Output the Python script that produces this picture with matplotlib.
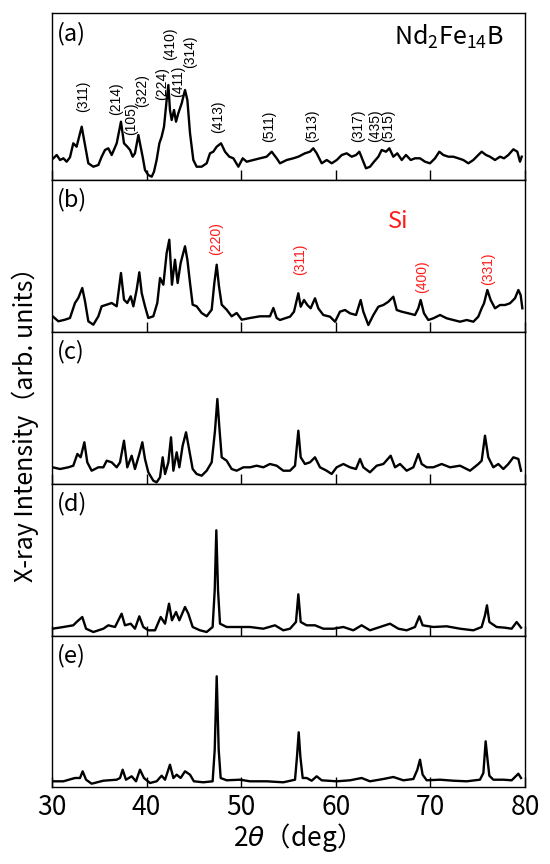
import numpy as np
import matplotlib
matplotlib.use('Agg')
import matplotlib.pyplot as plt

plt.rcParams['font.family'] = ['Noto Sans CJK JP', 'DejaVu Sans']

# 2theta (deg) and intensity (arb. units), one pair per panel
tt_a = [30.14, 30.5, 30.85, 31.2, 31.55, 31.9, 32.25, 32.6, 33.14, 33.49, 33.84, 34.37,
        34.9, 35.25, 35.6, 35.95, 36.31, 36.84, 37.29, 37.61, 37.96, 38.25, 38.53, 38.77,
        39.13, 39.37, 39.58, 39.83, 40.18, 40.54, 40.78, 41.06, 41.35, 41.59, 41.84, 42.12,
        42.3, 42.47, 42.65, 42.9, 43.11, 43.35, 43.71, 44.06, 44.31, 44.59, 44.94, 45.29,
        45.82, 46.35, 46.7, 47.05, 47.41, 47.87, 48.29, 48.74, 49.17, 49.7, 50.16, 50.58,
        51.28, 51.99, 52.69, 53.22, 53.75, 54.1, 54.81, 55.51, 56.04, 56.74, 57.27, 57.62,
        57.98, 58.51, 59.04, 59.57, 60.1, 60.63, 61.15, 61.68, 62.14, 62.49, 62.84, 63.19,
        63.62, 64.04, 64.5, 64.85, 65.31, 65.66, 66.08, 66.5, 66.97, 67.42, 67.92, 68.37,
        68.9, 69.43, 69.96, 70.49, 70.94, 71.37, 71.9, 72.42, 72.95, 73.48, 74.01, 74.54,
        75.06, 75.42, 75.88, 76.3, 76.83, 77.36, 77.78, 78.24, 78.77, 79.19, 79.47, 79.65]
int_a = [21.7, 25, 20, 21.7, 18.3, 22.7, 36.7, 33.3, 53.3, 35, 16.7, 13.3,
         15, 23.3, 30, 31.7, 25, 36.7, 58.3, 36.7, 33.3, 30, 23.3, 26.7,
         45, 33.3, 23.3, 10, 5, 3.3, 8.3, 20, 36.7, 43.3, 53.3, 80,
         95, 70, 60, 70, 58.3, 66.7, 76.7, 90, 80, 46.7, 20, 13.3,
         13.3, 16.7, 26.7, 28.3, 33.3, 36.7, 28.3, 23.3, 21.7, 13.3, 21.7, 18.3,
         20, 21.7, 23.3, 28.3, 21.7, 16.7, 20, 21.7, 23.3, 26.7, 28.3, 31.7,
         26.7, 16.7, 20, 16.7, 20, 25, 26.7, 23.3, 25, 28.3, 20, 11.7,
         13.3, 18.3, 23.3, 30, 28.3, 31.7, 23.3, 26.7, 20, 25, 20, 21.7,
         21.7, 18.3, 16.7, 21.7, 28.3, 25, 23.3, 23.3, 21.7, 20, 16.7, 20,
         25, 28.3, 25, 23.3, 20, 23.3, 21.7, 25, 30.7, 28.3, 18.3, 23.3]

tt_b = [30.07, 30.67, 31.37, 31.9, 32.43, 32.78, 33.2, 33.49, 33.84, 34.37, 34.9, 35.25,
        35.78, 36.31, 36.84, 37.29, 37.61, 37.96, 38.32, 38.6, 38.95, 39.23, 39.48, 39.83,
        40.18, 40.71, 41.13, 41.42, 41.77, 42.12, 42.4, 42.68, 43.0, 43.28, 43.6, 44.06,
        44.31, 44.59, 44.87, 45.29, 45.82, 46.35, 46.88, 47.16, 47.41, 47.65, 47.94, 48.46,
        48.99, 49.52, 50.05, 50.93, 51.99, 53.04, 53.4, 53.75, 54.1, 54.63, 55.16, 55.58,
        56.04, 56.29, 56.64, 56.99, 57.34, 57.8, 58.15, 58.68, 59.39, 59.92, 60.44, 60.97,
        61.5, 62.14, 62.63, 62.91, 63.44, 63.97, 64.5, 65.03, 65.56, 66.08, 66.44, 66.97,
        67.67, 68.37, 68.72, 68.97, 69.32, 69.78, 70.31, 71.02, 71.72, 72.42, 73.13, 73.84,
        74.54, 75.06, 75.42, 75.67, 76.02, 76.37, 76.83, 77.36, 77.89, 78.41, 78.94, 79.3,
        79.54, 79.72]
int_b = [15.7, 10.7, 12.3, 14, 29, 34, 44, 30.7, 10.7, 7.3, 15.7, 25.7,
         27.3, 29, 25.7, 59, 32.3, 29, 35.7, 25.7, 42.3, 59.7, 39, 25.7,
         14, 15.7, 29, 54, 47.3, 79, 92.3, 47.3, 72.3, 49, 69, 85.7,
         72.3, 49, 27.3, 25.7, 19, 15.7, 22.3, 49, 67.3, 45.7, 27.3, 22.3,
         15.7, 19, 12.3, 14, 15.7, 15.7, 24, 14, 12, 13.7, 15.3, 20.3,
         38.7, 25.3, 32, 27, 23.7, 33.7, 23.7, 17, 15.3, 10.3, 20.3, 22,
         18.7, 17, 32, 20.3, 7, 17, 25.3, 27, 30.3, 35.3, 22, 20.3,
         18.7, 17, 23.7, 32, 18.7, 12, 13.7, 17, 13.7, 12, 10.3, 12,
         10.3, 15.3, 23.7, 28.7, 42, 32, 23.7, 27, 27, 28.7, 33.7, 42,
         37, 23.7]

tt_c = [30.07, 30.85, 31.73, 32.25, 32.68, 33.03, 33.42, 33.73, 34.19, 34.9, 35.43, 35.78,
        36.31, 36.84, 37.19, 37.61, 37.96, 38.42, 38.77, 39.23, 39.55, 39.83, 40.18, 40.71,
        41.06, 41.42, 41.7, 41.95, 42.3, 42.58, 42.83, 43.18, 43.46, 43.81, 44.17, 44.52,
        44.87, 45.29, 45.82, 46.35, 46.88, 47.23, 47.48, 47.69, 47.94, 48.46, 48.99, 49.52,
        50.23, 50.93, 51.63, 52.34, 53.04, 53.75, 54.45, 55.16, 55.69, 56.04, 56.29, 56.74,
        57.27, 57.8, 58.33, 59.03, 59.56, 60.09, 60.8, 61.5, 62.13, 62.56, 62.91, 63.61,
        64.32, 65.03, 65.8, 66.26, 66.79, 67.49, 68.2, 68.72, 69.08, 69.61, 70.31, 71.19,
        72.07, 73.13, 74.19, 75.07, 75.42, 75.77, 76.12, 76.65, 77.18, 77.71, 78.24, 78.77,
        79.3, 79.58]
int_c = [16.7, 15, 16.7, 18.3, 30, 26.7, 41.7, 21.7, 13.3, 16.7, 16.7, 23.3,
         21.7, 16.7, 21.7, 43.3, 16.7, 28.3, 15, 30, 41.7, 25, 11.7, 3.3,
         1.7, 6.7, 26.7, 10, 21.7, 46.7, 13.3, 31.7, 16.7, 38.3, 51.7, 33.3,
         15, 10, 8.3, 13.3, 21.7, 53.3, 85, 56.7, 26.7, 23.3, 15, 13.3,
         16.7, 16.7, 18.3, 16.7, 20, 18.3, 13.3, 13.3, 18.3, 53.3, 26.7, 20,
         21.7, 26.7, 16.7, 13.3, 10, 16.7, 20, 16.7, 15, 25, 16.7, 11.7,
         18.3, 20, 28.3, 16.7, 20, 13.3, 16.7, 30, 20, 16.7, 16.7, 20,
         16.7, 18.3, 13.3, 20, 23.3, 48.3, 26.7, 16.7, 20, 15, 20, 26.7,
         25, 13.3]

tt_d = [30.07, 31.2, 32.25, 32.6, 33.2, 33.6, 34.37, 35.43, 35.95, 36.66, 37.36, 37.71,
        38.32, 38.77, 39.23, 39.65, 40.18, 40.89, 41.49, 41.95, 42.37, 42.68, 43.11, 43.46,
        44.06, 44.41, 44.87, 45.64, 46.35, 46.98, 47.2, 47.37, 47.55, 47.76, 48.46, 49.52,
        50.93, 52.34, 53.57, 54.45, 55.16, 55.79, 56.04, 56.29, 56.92, 57.8, 58.68, 59.74,
        60.8, 61.85, 62.73, 63.61, 64.67, 65.73, 66.61, 67.49, 68.37, 68.83, 69.18, 70.31,
        71.72, 73.13, 74.54, 75.42, 75.77, 75.98, 76.23, 77.0, 77.89, 78.59, 79.12, 79.58]
int_d = [7.3, 9, 10.7, 14, 19, 7.3, 4, 7.3, 10.7, 9, 22.3, 10.7,
         12.3, 7.3, 19.7, 9, 5.7, 5.7, 19, 12.3, 32.3, 15.7, 24, 15.7,
         29, 22.3, 9, 5.7, 4, 9, 45.7, 105.7, 45.7, 12.3, 9, 9,
         9, 7.3, 10.7, 5.7, 7.3, 14, 41.7, 14, 10.7, 10.7, 7.3, 7.3,
         9, 5.7, 10.7, 5.7, 9, 12.3, 7.3, 5.7, 9, 19.7, 10.7, 9,
         9.7, 7.3, 5.7, 9, 20.7, 30.7, 14, 9, 8.3, 7.3, 14, 8.3]

tt_e = [30.07, 31.2, 32.43, 32.96, 33.24, 33.6, 34.19, 35.43, 36.84, 37.19, 37.47, 37.82,
        38.42, 38.88, 39.3, 39.72, 40.36, 41.06, 41.59, 41.95, 42.47, 42.83, 43.18, 43.6,
        44.06, 44.59, 45.0, 45.99, 46.98, 47.2, 47.41, 47.62, 47.83, 48.46, 49.87, 50.93,
        52.69, 54.45, 55.69, 55.9, 56.08, 56.25, 56.5, 56.92, 57.45, 57.98, 58.51, 60.09,
        61.5, 62.73, 63.61, 65.03, 66.08, 67.14, 68.2, 68.62, 68.9, 69.18, 69.61, 71.02,
        72.42, 73.83, 75.24, 75.6, 75.84, 76.02, 76.23, 76.65, 77.71, 78.59, 79.3, 79.58]
int_e = [5.7, 5.7, 9, 9, 15.7, 7.3, 3.3, 6.3, 7.3, 9, 17.3, 7.3,
         10.7, 5.7, 17.3, 9, 4, 5.7, 11.3, 7.3, 22.3, 9, 12.3, 9,
         15.7, 12.3, 5.7, 4.7, 5.7, 37.3, 110.7, 37.3, 9, 6.7, 7.3, 5.7,
         5.7, 4.7, 7.3, 30.7, 54.7, 30.7, 9, 9, 6.3, 10.7, 6.7, 5.7,
         6.7, 9, 5.7, 8, 10, 6.7, 8, 17.3, 27.3, 12.3, 6.7, 7.3,
         6.3, 5.7, 7.3, 14, 45.7, 29, 11.3, 7.3, 7.3, 6.7, 13.3, 9]

panel_names = ['(a)', '(b)', '(c)', '(d)', '(e)']

# Nd2Fe14B reflections (panel a) and Si reflections (panel b)
ndfeb_hkl = ['(311)', '(214)', '(105)', '(322)', '(224)', '(410)', '(411)', '(314)',
             '(413)', '(511)', '(513)', '(317)', '(435)', '(515)']
ndfeb_pos = [33.3, 36.8, 38.4, 39.5, 41.6, 42.5, 43.35, 44.6, 47.6, 53.0, 57.45, 62.4, 64.15, 65.55]
ndfeb_lab_y = [68, 65, 45, 73, 80, 120, 83, 112, 47, 38, 38, 38, 38, 38]

si_hkl = ['(220)', '(311)', '(400)', '(331)']
si_pos = [47.4, 56.2, 69.1, 76.1]
si_lab_y = [77, 57, 39, 47]

spectra = [(tt_a, int_a), (tt_b, int_b), (tt_c, int_c), (tt_d, int_d), (tt_e, int_e)]

W, H = 550, 864
fig = plt.figure(figsize=(W / 100, H / 100), dpi=100)

# panel edges in pixels (top, bottom)
edges = [(13, 180), (180, 332), (332, 484), (484, 636), (636, 787)]
left_px, right_px = 52, 525

axes = []
for i, (top, bot) in enumerate(edges):
    ax = fig.add_axes([left_px / W, 1 - bot / H, (right_px - left_px) / W, (bot - top) / H])
    x, y = spectra[i]
    ax.plot(x, y, color='black', lw=1.7, solid_joinstyle='round')
    ax.set_xlim(30, 80)
    ax.set_ylim(0, bot - top)
    ax.set_yticks([])
    ax.set_xticks([30, 40, 50, 60, 70, 80])
    ax.tick_params(axis='x', direction='in', length=7, width=1.0, top=False,
                   labelbottom=(i == 4), labelsize=19, pad=5)
    for sp in ax.spines.values():
        sp.set_linewidth(1.0)
    ax.text(0.01, 0.95, panel_names[i], transform=ax.transAxes, fontsize=17,
            ha='left', va='top')
    axes.append(ax)

ax_a = axes[0]
ax_a.text(0.955, 0.94, 'Nd$_\\mathregular{2}$Fe$_\\mathregular{14}$B', transform=ax_a.transAxes,
          fontsize=18, ha='right', va='top')
for lab, xp, yp in zip(ndfeb_hkl, ndfeb_pos, ndfeb_lab_y):
    ax_a.text(xp, yp, lab, rotation=90, fontsize=10, ha='center', va='bottom',
              family=['Liberation Sans', 'DejaVu Sans'])

ax_b = axes[1]
ax_b.text(66.6, 111, 'Si', color='#ff1a1a', fontsize=17, ha='center', va='center')
for lab, xp, yp in zip(si_hkl, si_pos, si_lab_y):
    ax_b.text(xp, yp, lab, rotation=90, fontsize=10, ha='center', va='bottom',
              color='#ff1a1a', family=['Liberation Sans', 'DejaVu Sans'])

fig.text(25 / W, 1 - 418 / H, 'X-ray Intensity（arb. units）', rotation=90,
         fontsize=18, ha='center', va='center')
fig.text(290 / W, 1 - 838 / H, '2$\\it{\\theta}$（deg）', fontsize=19,
         ha='center', va='center')

fig.savefig('out.png', dpi=100)
